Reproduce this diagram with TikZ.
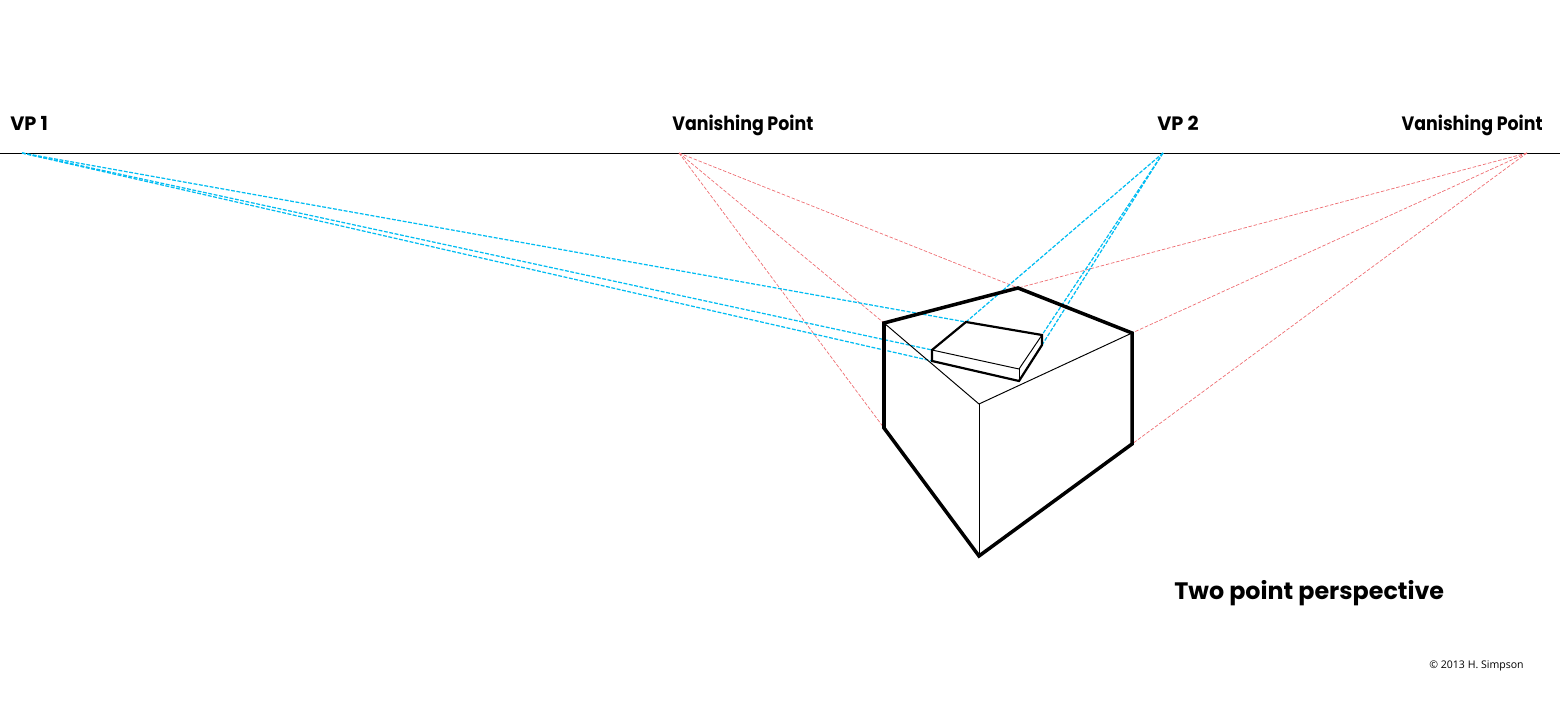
\documentclass[tikz,border=0pt]{standalone}
\usepackage{xcolor}
\usepackage{fontspec}
\setmainfont{Poppins}
\newfontfamily\smallfont{Open Sans}
\definecolor{vpblue}{RGB}{0,188,242}
\definecolor{vpred}{RGB}{238,110,115}
\tikzset{
  lbl/.style={inner sep=0pt,font=\bfseries\fontsize{11}{13}\selectfont},
  widelbl/.style={inner sep=0pt,font=\bfseries\fontsize{11}{13}\selectfont\addfontfeature{FakeStretch=0.9}},
  thickedge/.style={line width=2pt,black,line join=miter},
  slabedge/.style={line width=1.25pt,black,line join=miter},
  thinedge/.style={line width=0.55pt,black},
  blueline/.style={vpblue,line width=0.7pt,dash pattern=on 2.2pt off 0.9pt},
  redline/.style={vpred,line width=0.4pt,dash pattern=on 2pt off 1pt}
}

\begin{document}
\begin{tikzpicture}[x=0.02cm,y=-0.02cm]
      \useasboundingbox (0,0) rectangle (1560,712);
      % horizon line, coordinates are in pixels of the sheet
      \coordinate (hleft) at (0,153);
      \coordinate (hright) at (1560,153);
      \draw[line width=0.45pt] (hleft) -- (hright);
      % vanishing points
      \coordinate (vpa) at (22,153);
      \coordinate (vpb) at (1163,153);
      \coordinate (vpc) at (679,153);
      \coordinate (vpd) at (1527,153);
      % large box
      \coordinate (ba) at (884,323);
      \coordinate (bb) at (1018,288);
      \coordinate (bc) at (1132,333);
      \coordinate (bd) at (979,404);
      \coordinate (be) at (884,428);
      \coordinate (bf) at (979,556);
      \coordinate (bg) at (1132,444);
      % slab on top
      \coordinate (sa) at (966,322);
      \coordinate (sb) at (1042,335);
      \coordinate (sc) at (1042,345);
      \coordinate (sd) at (1019,381);
      \coordinate (se) at (1019,369);
      \coordinate (sf) at (932,350);
      \coordinate (sg) at (932,361);
      % construction lines
      \foreach \p in {bb,ba,be} {
        \draw[redline] (vpc) -- (\p);
      }
      \foreach \p in {bb,bc,bg} {
        \draw[redline] (vpd) -- (\p);
      }
      \foreach \p in {sa,sf,sg} {
        \draw[blueline] (vpa) -- (\p);
      }
      \foreach \p in {sa,sb,sc} {
        \draw[blueline] (vpb) -- (\p);
      }
      % box edges
      \draw[thinedge] (ba) -- (bd) -- (bc);
      \draw[thinedge] (bd) -- (bf);
      \draw[thickedge] (ba) -- (bb) -- (bc) -- (bg) -- (bf) -- (be) -- cycle;
      % slab edges
      \draw[thinedge] (sf) -- (se) -- (sb);
      \draw[thinedge] (se) -- (sd);
      \draw[slabedge] (sa) -- (sb) -- (sc) -- (sd) -- (sg) -- (sf) -- cycle;
      % labels
      \node[lbl,anchor=base west] (vpalbl) at (10,131) {VP 1};
      \node[widelbl,anchor=base west] (vpclbl) at (672,131) {Vanishing Point};
      \node[lbl,anchor=base west] (vpblbl) at (1157,131) {VP 2};
      \node[widelbl,anchor=base east] (vpdlbl) at (1543,131) {Vanishing Point};
      \node[anchor=base west,inner sep=0pt,font=\bfseries\fontsize{13.55}{16}\selectfont] (title) at (1174,600) {Two point perspective};
      \node[anchor=base east,inner sep=0pt,font=\smallfont\fontsize{6}{7}\selectfont] (credit) at (1524,669) {© 2013 H. Simpson};
\end{tikzpicture}
\end{document}
